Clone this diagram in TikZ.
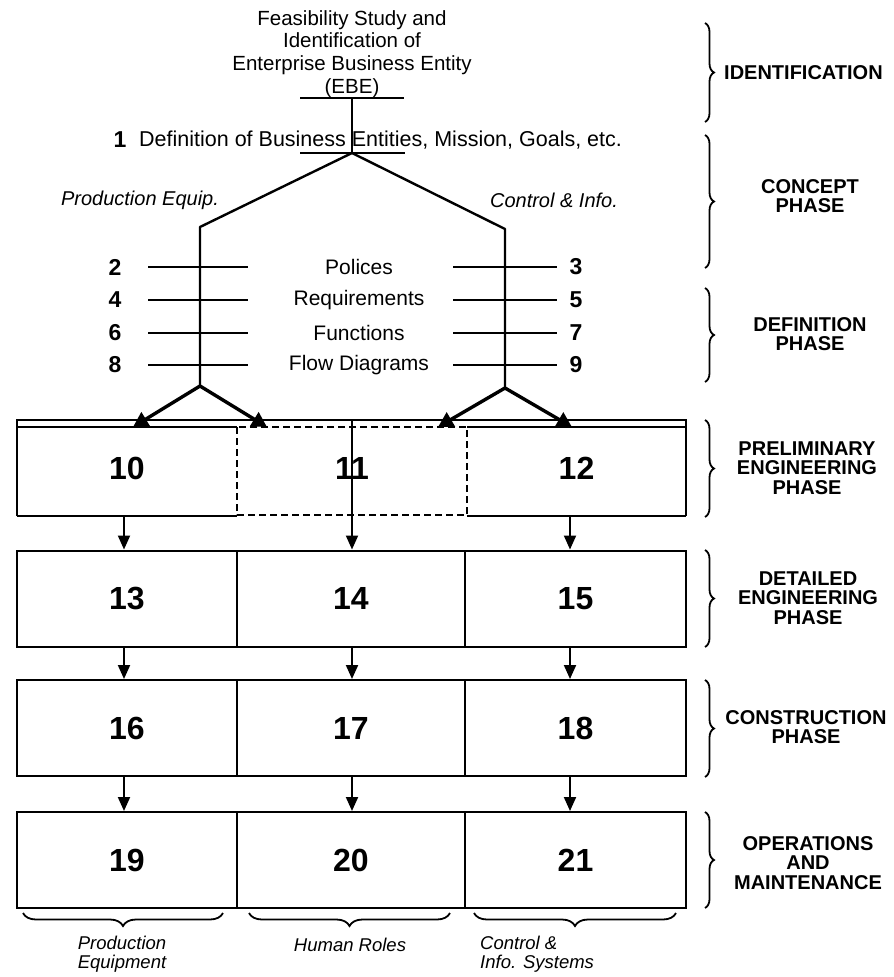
\documentclass[tikz,border=0pt]{standalone}
\usepackage{fontspec}
\setmainfont{Liberation Sans}
\usetikzlibrary{arrows.meta,decorations.pathreplacing}
\begin{document}
\begin{tikzpicture}[x=1pt,y=-1pt,
  line/.style={line width=2pt},
  forkline/.style={line width=2.4pt},
  forkarrow/.style={line width=3.4pt,-{Triangle[width=16pt,length=15pt]}},
  flow/.style={line width=2pt,-{Triangle[width=12pt,length=14pt]}},
  cell/.style={draw,line width=2pt,inner sep=0pt,minimum height=96pt,font=\fontsize{32}{32}\selectfont\bfseries},
  colA/.style={cell,minimum width=220pt},
  colB/.style={cell,minimum width=228pt},
  colC/.style={cell,minimum width=221pt},
  txt/.style={font=\fontsize{20.5}{22.8}\selectfont,inner sep=0pt},
  rowlab/.style={font=\fontsize{21}{22}\selectfont,inner sep=0pt},
  bignum/.style={font=\fontsize{23}{23}\selectfont\bfseries,inner sep=0pt},
  branch/.style={font=\fontsize{20}{22}\selectfont\itshape,inner sep=0pt},
  phase/.style={font=\fontsize{20}{19.5}\selectfont\bfseries,align=center,inner sep=0pt},
  rbrace/.style={line width=1.8pt,decorate,decoration={brace,amplitude=9pt}},
  bbrace/.style={line width=1.8pt,decorate,decoration={brace,amplitude=13pt}},
  foot/.style={font=\fontsize{18.5}{18.5}\selectfont\itshape,inner sep=0pt}
]
\useasboundingbox (0,0) rectangle (894,977);

% ---- identification and definition of the enterprise ----
\node[txt,align=center] (feas) at (352,54)
  {Feasibility Study and\\Identification of\\Enterprise Business Entity\\(EBE)};
\coordinate (ebeL) at (300,98);
\coordinate (ebeR) at (404,98);
\coordinate (ebeM) at (352,98);
\coordinate (defL) at (300,153);
\coordinate (defR) at (405,153);
\coordinate (apex) at (352,153);
\draw[line] (ebeL) -- (ebeR);
\draw[line] (ebeM) -- (apex);
\draw[line] (defL) -- (defR);
\node[bignum] (n1) at (120,140) {1};
\node[txt,font=\fontsize{21.5}{22}\selectfont,anchor=west] (def) at (139,140)
  {Definition of Business Entities, Mission, Goals, etc.};

% ---- the two branches ----
\node[branch] (prodeq) at (140,200) {Production Equip.};
\node[branch] (ctrlinfo) at (554,200) {Control \& Info.};
\coordinate (lk) at (200,227);
\coordinate (rk) at (505,229);
\coordinate (lf) at (200,386);
\coordinate (rf) at (505,388);
\draw[forkline,line join=round] (apex) -- (lk) -- (lf);
\draw[forkline,line join=round] (apex) -- (rk) -- (rf);

% ---- definition rows ----
\foreach \y/\l/\lab/\r in {267/2/Polices/3, 300/4/Requirements/5,
                           333/6/Functions/7, 365/8/Flow Diagrams/9}{
  \node[bignum] (L\l) at (115,\y) {\l};
  \node[bignum] (R\r) at (576,\y) {\r};
  \node[rowlab] (T\l) at (359,\y) {\lab};
  \draw[line] (148,\y) coordinate (la\l) -- (248,\y) coordinate (lb\l);
  \draw[line] (453,\y) coordinate (ra\r) -- (557,\y) coordinate (rb\r);
}

% ---- preliminary engineering row ----
\node[cell,draw=none,minimum width=220pt,minimum height=96pt] (b10) at (127,468) {10};
\node[cell,draw=none,minimum width=230pt,minimum height=96pt] (b11) at (352,468) {11};
\node[cell,draw=none,minimum width=219pt,minimum height=96pt] (b12) at (576.5,468) {12};
\draw[line] (17,516) -- (17,420) -- (686,420) -- (686,516);
\draw[line] (17,516) -- (237,516);
\draw[line] (467,516) -- (686,516);
\draw[line] (17,427) -- (237,427);
\draw[line] (467,427) -- (686,427);
\draw[line,dashed,dash pattern=on 7pt off 4pt] (237,427) rectangle (467,515);
\coordinate (midtop) at (352,420);

% fork arrows into the preliminary row
\coordinate (t10) at (133,427);
\coordinate (t11a) at (267,427);
\coordinate (t11b) at (438,427);
\coordinate (t12) at (572,427);
\draw[forkarrow] (lf) -- (t10);
\draw[forkarrow] (lf) -- (t11a);
\draw[forkarrow] (rf) -- (t11b);
\draw[forkarrow] (rf) -- (t12);

% ---- detailed engineering, construction, operations ----
\node[colA] (b13) at (127,598.5) {13};
\node[colB] (b14) at (351,598.5) {14};
\node[colC] (b15) at (575.5,598.5) {15};
\node[colA] (b16) at (127,728) {16};
\node[colB] (b17) at (351,728) {17};
\node[colC] (b18) at (575.5,728) {18};
\node[colA] (b19) at (127,860) {19};
\node[colB] (b20) at (351,860) {20};
\node[colC] (b21) at (575.5,860) {21};

% flow between rows
\draw[flow] (b10.south -| 124,0) -- (b13.north -| 124,0);
\draw[flow] (midtop) -- (b14.north -| midtop);
\draw[flow] (b12.south -| 570,0) -- (b15.north -| 570,0);
\draw[flow] (b13.south -| 124,0) -- (b16.north -| 124,0);
\draw[flow] (b14.south -| midtop) -- (b17.north -| midtop);
\draw[flow] (b15.south -| 570,0) -- (b18.north -| 570,0);
\draw[flow] (b16.south -| 124,0) -- (b19.north -| 124,0);
\draw[flow] (b17.south -| midtop) -- (b20.north -| midtop);
\draw[flow] (b18.south -| 570,0) -- (b21.north -| 570,0);

% ---- phase braces ----
\draw[rbrace] (705,23) -- (705,122);
\draw[rbrace] (705,135) -- (705,268);
\draw[rbrace] (705,288) -- (705,382);
\draw[rbrace] (705,420) -- (705,517);
\draw[rbrace] (705,550) -- (705,647);
\draw[rbrace] (705,680) -- (705,777);
\draw[rbrace] (705,812) -- (705,908);

\node[phase,anchor=west] (pid) at (724,73) {IDENTIFICATION};
\node[phase] (pcon) at (810,196) {CONCEPT\\PHASE};
\node[phase] (pdef) at (810,334) {DEFINITION\\PHASE};
\node[phase] (ppre) at (807,468) {PRELIMINARY\\ENGINEERING\\PHASE};
\node[phase] (pdet) at (808,598) {DETAILED\\ENGINEERING\\PHASE};
\node[phase] (pcst) at (806,727) {CONSTRUCTION\\PHASE};
\node[phase] (pops) at (808,863) {OPERATIONS\\AND\\MAINTENANCE};

% ---- column braces ----
\draw[bbrace] (223,913) -- (23,913);
\draw[bbrace] (450,913) -- (249,913);
\draw[bbrace] (676,913) -- (474,913);
\node[foot,align=center] (fprod) at (122,954) {Production\\Equipment};
\node[foot] (fhum) at (350,945) {Human Roles};
\node[foot,align=left,anchor=west] (fctl) at (480,954) {Control \&\\Info. Systems};
\end{tikzpicture}
\end{document}
